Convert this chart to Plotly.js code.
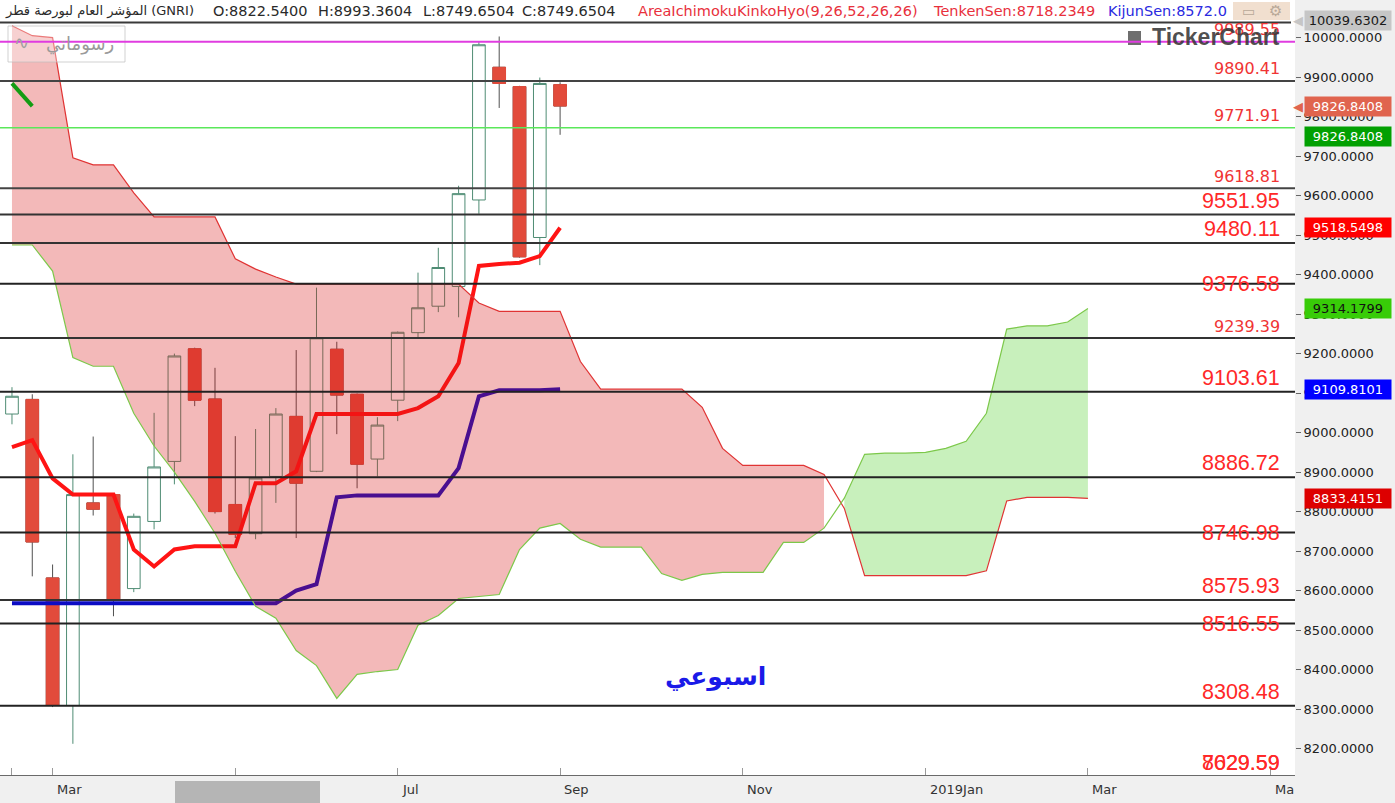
<!DOCTYPE html>
<html><head><meta charset="utf-8">
<script src="https://cdn.plot.ly/plotly-3.0.1.min.js"></script>
<style>html,body{margin:0;padding:0;background:#f0f0f0;overflow:hidden}#chart{width:1395px;height:803px}</style>
</head><body><div id="chart"></div>
<script>
// ---------------- DATA ----------------
// weekly bars (week start dates), Qatar General Index 2018
const weekDates = ['2018-02-18','2018-02-25','2018-03-04','2018-03-11','2018-03-18','2018-03-25','2018-04-01','2018-04-08','2018-04-15','2018-04-22','2018-04-29','2018-05-06','2018-05-13','2018-05-20','2018-05-27','2018-06-03','2018-06-10','2018-06-17','2018-06-24','2018-07-01','2018-07-08','2018-07-15','2018-07-22','2018-07-29','2018-08-05','2018-08-12','2018-08-26','2018-09-02'];
const openP  = [9047, 9084, 8632, 8309, 8822, 8843, 8605, 8775, 8927, 9212, 9085, 8818, 8744, 8889, 9041, 8902, 9211, 9097, 8933, 9082, 9253, 9320, 9370, 9589, 9925, 9876, 9494, 9881];
const highP  = [9115, 9097, 8666, 8945, 8990, 8845, 8795, 9050, 9200, 9215, 9164, 8991, 9009, 9062, 9209, 9367, 9230, 9099, 9039, 9256, 9405, 9468, 9625, 9990, 10003, 9878, 9899, 9887];
const lowP   = [9021, 8636, 8305, 8212, 8790, 8535, 8596, 8755, 8869, 9067, 8795, 8733, 8730, 8822, 8733, 8900, 8996, 8859, 8889, 9029, 9237, 9305, 9292, 9554, 9822, 9443, 9424, 9754];
const closeP = [9092, 8723, 8309, 8843, 8806, 8575, 8788, 8913, 9194, 9082, 8800, 8742, 8885, 9047, 8872, 9240, 9095, 8920, 9019, 9254, 9316, 9418, 9605, 9982, 9884, 9445, 9884, 9826.8408];
const tenkan = [8963, 8981, 8884, 8843, 8843, 8843, 8704, 8661, 8704, 8712, 8712, 8712, 8872, 8872, 8902, 9047, 9047, 9047, 9047, 9047, 9062, 9092, 9176, 9422, 9427, 9430, 9447, 9518.5498];
const kijun  = [8568, 8568, 8568, 8568, 8568, 8568, 8568, 8568, 8568, 8568, 8568, 8568, 8568, 8568, 8600, 8616, 8836, 8841, 8841, 8841, 8841, 8841, 8910, 9092, 9107, 9107, 9107, 9109.8101];
// Senkou spans (26 weeks projected forward)
const senkouA = [9475, 9475, 9409, 9190, 9168, 9168, 9049, 8966, 8900, 8826, 8745, 8649, 8560, 8530, 8448, 8410, 8327, 8388, 8395, 8400, 8512, 8537, 8580, 8585, 8590, 8704, 8758, 8770, 8730, 8710, 8710, 8710, 8643, 8626, 8641, 8646, 8646, 8646, 8722, 8722, 8758, 8834, 8945, 8948, 8948, 8950, 8960, 8978, 9049, 9262, 9270, 9270, 9280, 9314.1799];
const senkouB = [10030, 10005, 10000, 9696, 9678, 9678, 9607, 9546, 9546, 9546, 9546, 9440, 9414, 9394, 9376, 9376, 9376, 9376, 9376, 9376, 9376, 9376, 9376, 9328, 9307, 9307, 9307, 9307, 9180, 9110, 9110, 9110, 9110, 9110, 9064, 8960, 8917, 8917, 8917, 8917, 8894, 8808, 8638, 8638, 8638, 8638, 8638, 8638, 8650, 8827, 8836, 8836, 8836, 8833.4151];
const chikouShift = 26;
// horizontal price levels
const levels = [9989.55, 9890.41, 9771.91, 9618.81, 9551.95, 9480.11, 9376.58, 9239.39, 9103.61, 8886.72, 8746.98, 8575.93, 8516.55, 8308.48, 8029.59, 7629.59];
// month ticks (bar index) and labels
const monthTickIdx  = [0, 2, 11, 19, 27, 36, 45, 53, 62];
const monthTickText = ['', 'Mar', '', 'Jul', 'Sep', 'Nov', '2019Jan', 'Mar', 'Ma'];
const yTickVals = [8200, 8300, 8400, 8500, 8600, 8700, 8800, 8900, 9000, 9100, 9200, 9300, 9400, 9500, 9600, 9700, 9800, 9900, 10000];
const yTop = 10039.6302;
const headerTitle = 'المؤشر العام لبورصة قطر (GNRI)';
const headerOHLC = ['O:8822.5400', 'H:8993.3604', 'L:8749.6504', 'C:8749.6504'];
const indicatorName = 'AreaIchimokuKinkoHyo(9,26,52,26,26)';
const tenkanHeader = 'TenkenSen:8718.2349';
const kijunHeader = 'KijunSen:8572.0';
const periodText = 'اسبوعي';
const drawingsText = 'رسوماتي';
const watermark = 'TickerChart';

// ---------------- STYLE / LAYOUT HELPERS ----------------
const W = 1395, H = 803;
const M = {l: 0, r: 100, t: 22, b: 28};
const PW = W - M.l - M.r, PH = H - M.t - M.b;
const pxX = p => (p - M.l) / PW;
const pxY = p => (H - M.b - p) / PH;
const yMin = 8133;
const xRange = [-0.59, 63.2];

const levelStyles = ['small','small','small','small','large','large','strike','small','large','large','strike','large','strike','large','large','large'];
const levelLineColors = ['#e03ce0','#444','#5ae85a','#444','#333','#333','#222','#333','#222','#222','#222','#333','#222','#222','#222','#222'];

const idx = closeP.map((_, i) => i);
const cloudIdx = senkouA.map((_, i) => i);
const last = closeP.length - 1;

const traces = [];
traces.push({
  type: 'candlestick', x: idx, open: openP, high: highP, low: lowP, close: closeP,
  increasing: {line: {color: '#4f8c74', width: 1}, fillcolor: 'rgba(255,255,255,0)'},
  decreasing: {line: {color: '#505050', width: 1}, fillcolor: '#e24b3b'},
  whiskerwidth: 0, hoverinfo: 'skip', showlegend: false
});
traces.push({
  type: 'candlestick', x: idx, open: openP, close: closeP,
  high: openP.map((o, i) => Math.max(o, closeP[i])),
  low: openP.map((o, i) => Math.min(o, closeP[i])),
  increasing: {line: {color: 'rgba(0,0,0,0)', width: 0}, fillcolor: 'rgba(0,0,0,0)'},
  decreasing: {line: {color: '#e24b3b', width: 1}, fillcolor: '#e24b3b'},
  whiskerwidth: 0, hoverinfo: 'skip', showlegend: false
});
traces.push({type: 'scatter', mode: 'lines', x: idx, y: tenkan, line: {color: '#ff1414', width: 4}, hoverinfo: 'skip', showlegend: false});
traces.push({type: 'scatter', mode: 'lines', x: idx, y: kijun, line: {color: '#0c0cc4', width: 4}, hoverinfo: 'skip', showlegend: false});
const split = senkouA.findIndex((a, i) => a > senkouB[i]);
traces.push({type: 'scatter', mode: 'lines', x: cloudIdx.slice(0, split), y: senkouA.slice(0, split), line: {width: 0, color: 'rgba(0,0,0,0)'}, hoverinfo: 'skip', showlegend: false});
traces.push({type: 'scatter', mode: 'lines', x: cloudIdx.slice(0, split), y: senkouB.slice(0, split), fill: 'tonexty', fillcolor: 'rgba(215,22,22,0.3)', line: {width: 0, color: 'rgba(0,0,0,0)'}, hoverinfo: 'skip', showlegend: false});
traces.push({type: 'scatter', mode: 'lines', x: cloudIdx.slice(split), y: senkouB.slice(split), line: {width: 0, color: 'rgba(0,0,0,0)'}, hoverinfo: 'skip', showlegend: false});
traces.push({type: 'scatter', mode: 'lines', x: cloudIdx.slice(split), y: senkouA.slice(split), fill: 'tonexty', fillcolor: 'rgba(72,205,32,0.3)', line: {width: 0, color: 'rgba(0,0,0,0)'}, hoverinfo: 'skip', showlegend: false});
traces.push({type: 'scatter', mode: 'lines', x: cloudIdx, y: senkouB, line: {color: '#e03434', width: 1.2}, hoverinfo: 'skip', showlegend: false});
traces.push({type: 'scatter', mode: 'lines', x: cloudIdx, y: senkouA, line: {color: '#7cc84a', width: 1.2}, hoverinfo: 'skip', showlegend: false});
const chX = [], chY = [];
for (let i = 0; i + chikouShift < closeP.length; i++) { chX.push(i); chY.push(closeP[i + chikouShift]); }
traces.push({type: 'scatter', mode: 'lines', x: chX, y: chY, line: {color: '#139c13', width: 4}, hoverinfo: 'skip', showlegend: false});

// ---------------- SHAPES ----------------
const shapes = [];
shapes.push({type: 'rect', xref: 'paper', yref: 'paper', x0: 0, x1: pxX(1295), y0: 1, y1: pxY(0), fillcolor: '#ffffff', line: {width: 0}, layer: 'below'});
shapes.push({type: 'line', xref: 'paper', yref: 'paper', x0: 0, x1: pxX(1291), y0: pxY(22.5), y1: pxY(22.5), line: {color: '#3a3a3a', width: 2}});
shapes.push({type: 'rect', xref: 'paper', yref: 'paper', x0: pxX(1233), x1: pxX(1290), y0: pxY(20), y1: pxY(2), fillcolor: '#f1dfcf', line: {width: 0}});
shapes.push({type: 'rect', xref: 'paper', yref: 'paper', x0: pxX(175), x1: pxX(320), y0: pxY(803), y1: pxY(781), fillcolor: '#b5b5b5', line: {width: 0}});
shapes.push({type: 'rect', xref: 'paper', yref: 'paper', x0: pxX(8), x1: pxX(125), y0: pxY(62), y1: pxY(26), fillcolor: 'rgba(255,255,255,0.35)', line: {color: 'rgba(190,190,190,0.7)', width: 1}});
shapes.push({type: 'rect', xref: 'paper', yref: 'paper', x0: pxX(1128), x1: pxX(1141), y0: pxY(45), y1: pxY(31), fillcolor: 'rgba(85,85,85,0.85)', line: {width: 0}});
levels.forEach((v, i) => {
  if (v < yMin) return;
  shapes.push({type: 'line', xref: 'paper', yref: 'y', x0: 0, x1: 1, y0: v, y1: v, line: {color: levelLineColors[i], width: i === 2 ? 1.5 : 2}, layer: 'above'});
});

// ---------------- ANNOTATIONS ----------------
const ann = [];
const hdrFont = (c, s) => ({family: 'DejaVu Sans, sans-serif', size: s || 14.5, color: c});
ann.push({xref: 'paper', yref: 'paper', x: pxX(3), y: pxY(11), xanchor: 'left', yanchor: 'middle', text: headerTitle, showarrow: false, font: hdrFont('#2a2a2a', 13)});
[211, 316, 421, 520].forEach((p, i) => ann.push({xref: 'paper', yref: 'paper', x: pxX(p), y: pxY(11), xanchor: 'left', yanchor: 'middle', text: headerOHLC[i], showarrow: false, font: hdrFont('#2a2a2a')}));
ann.push({xref: 'paper', yref: 'paper', x: pxX(636), y: pxY(11), xanchor: 'left', yanchor: 'middle', text: indicatorName, showarrow: false, font: hdrFont('#e8303c')});
ann.push({xref: 'paper', yref: 'paper', x: pxX(931), y: pxY(11), xanchor: 'left', yanchor: 'middle', text: tenkanHeader, showarrow: false, font: hdrFont('#e8303c')});
ann.push({xref: 'paper', yref: 'paper', x: pxX(1106), y: pxY(11), xanchor: 'left', yanchor: 'middle', text: kijunHeader, showarrow: false, font: hdrFont('#2a2ae0')});

// level labels
levels.forEach((v, i) => {
  const st = levelStyles[i];
  const font = st === 'small' ? {family: 'DejaVu Sans, sans-serif', size: 16, color: '#f03434'}
                              : {family: 'Liberation Sans, Arial, sans-serif', size: 21.5, color: '#ff2828'};
  const shift = st === 'small' ? 12 : (st === 'large' ? 14 : 0);
  const txt = v.toFixed(2);
  if (v < yMin) {
    ann.push({xref: 'paper', yref: 'paper', x: pxX(1282), y: pxY(763), xanchor: 'right', yanchor: 'middle', text: txt, showarrow: false, font: font});
  } else {
    ann.push({xref: 'paper', yref: 'y', x: pxX(1282), y: v, yshift: shift, xanchor: 'right', yanchor: 'middle', text: txt, showarrow: false, font: font});
  }
});

// icon box glyphs (drawn after header texts so they sit on top)
ann.push({xref: 'paper', yref: 'paper', x: pxX(1248), y: pxY(11), xanchor: 'center', yanchor: 'middle', text: '▭', showarrow: false, font: {family: 'DejaVu Sans', size: 14, color: '#b8a898'}});
ann.push({xref: 'paper', yref: 'paper', x: pxX(1275), y: pxY(11), xanchor: 'center', yanchor: 'middle', text: '⚙', showarrow: false, font: {family: 'DejaVu Sans', size: 15, color: '#b8a898'}});

// watermark + drawings box
ann.push({xref: 'paper', yref: 'paper', x: pxX(1282), y: pxY(37), xanchor: 'right', yanchor: 'middle', text: '<b>' + watermark + '</b>', showarrow: false, font: {family: 'Liberation Sans, Arial, sans-serif', size: 23, color: 'rgba(55,55,55,0.88)'}});
ann.push({xref: 'paper', yref: 'paper', x: pxX(80), y: pxY(44), xanchor: 'center', yanchor: 'middle', text: drawingsText, showarrow: false, font: {family: 'DejaVu Sans, sans-serif', size: 18, color: '#9a9a9a'}});
ann.push({xref: 'paper', yref: 'paper', x: pxX(21), y: pxY(43), xanchor: 'center', yanchor: 'middle', text: '∿', showarrow: false, font: {family: 'DejaVu Sans, sans-serif', size: 18, color: '#a0a0a0'}});
ann.push({xref: 'paper', yref: 'paper', x: pxX(715), y: pxY(677), xanchor: 'center', yanchor: 'middle', text: '<b>' + periodText + '</b>', showarrow: false, font: {family: 'DejaVu Sans, sans-serif', size: 25, color: '#1a1ae8'}});

// month labels
monthTickIdx.forEach((t, i) => {
  if (!monthTickText[i]) return;
  ann.push({xref: 'x', yref: 'paper', x: t, xshift: 2, y: pxY(789), xanchor: 'left', yanchor: 'middle', text: monthTickText[i], showarrow: false, font: {family: 'DejaVu Sans, sans-serif', size: 13, color: '#333'}});
});

// right axis value boxes
const boxFont = c => ({family: 'DejaVu Sans, sans-serif', size: 13, color: c});
const boxes = [
  {y: 1, ref: 'paper', val: yTop, bg: '#c6c6c6', fg: '#1a1a1a', arrow: true, shift: 2},
  {y: closeP[last], ref: 'y', val: closeP[last], bg: '#e0644e', fg: '#ffffff', arrow: true, shift: 0},
  {y: chY[chY.length - 1], ref: 'y', val: chY[chY.length - 1], bg: '#02a002', fg: '#ffffff', arrow: false, shift: -30},
  {y: tenkan[last], ref: 'y', val: tenkan[last], bg: '#ff0000', fg: '#ffffff', arrow: false, shift: 0},
  {y: senkouA[senkouA.length - 1], ref: 'y', val: senkouA[senkouA.length - 1], bg: '#38cc08', fg: '#111111', arrow: false, shift: 0},
  {y: kijun[last], ref: 'y', val: kijun[last], bg: '#0000ff', fg: '#ffffff', arrow: false, shift: 0},
  {y: senkouB[senkouB.length - 1], ref: 'y', val: senkouB[senkouB.length - 1], bg: '#dd0000', fg: '#ffffff', arrow: false, shift: 0}
];
boxes.forEach(b => {
  ann.push({xref: 'paper', yref: b.ref, x: pxX(1304), y: b.y, yshift: b.shift, xanchor: 'left', yanchor: 'middle', text: b.val.toFixed(4), showarrow: false, bgcolor: b.bg, borderpad: 2, width: 82, align: 'center', font: boxFont(b.fg)});
  if (b.arrow) ann.push({xref: 'paper', yref: b.ref, x: pxX(1305), y: b.y, yshift: b.shift, xanchor: 'right', yanchor: 'middle', text: '◀', showarrow: false, font: {family: 'DejaVu Sans', size: 13, color: b.bg}});
});

const layout = {
  width: W, height: H, margin: M,
  paper_bgcolor: '#f0f0f0', plot_bgcolor: '#ffffff',
  showlegend: false, hovermode: false,
  boxgap: 0.24, boxgroupgap: 0.18,
  xaxis: {range: xRange, rangeslider: {visible: false}, showgrid: false, zeroline: false, tickvals: monthTickIdx, ticktext: monthTickIdx.map(() => ''), showticklabels: false, ticks: 'inside', ticklen: 7, tickcolor: '#9a9a9a', showline: true, linecolor: '#6a6a6a', linewidth: 1, fixedrange: true},
  yaxis: {side: 'right', range: [yMin, yTop], tickvals: yTickVals, tickformat: '.4f', ticks: 'outside', ticklen: 5, tickcolor: '#666', tickfont: {family: 'DejaVu Sans, sans-serif', size: 13, color: '#222'}, showgrid: false, zeroline: false, showline: false, fixedrange: true},
  shapes: shapes, annotations: ann
};
Plotly.newPlot('chart', traces, layout, {displayModeBar: false, staticPlot: true});
</script></body></html>
